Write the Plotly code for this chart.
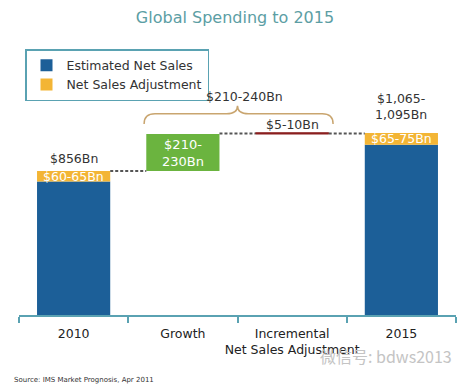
import plotly.graph_objects as go

# ---------------- data ----------------
categories = ["2010", "Growth", "Incremental<br>Net Sales Adjustment", "2015"]
bar_positions = [0, 3]                 # 2010, 2015
estimated_net_sales = [794, 1012]      # $Bn
net_sales_adjustment = [62, 70]        # $Bn
growth_value = 220                     # $Bn (210-230)
incremental_value = 7.5                # $Bn (5-10)

total_labels = ["$856Bn", "$1,065-<br>1,095Bn"]
adjustment_labels = ["$60-65Bn", "$65-75Bn"]
growth_label = "$210-<br>230Bn"
incremental_label = "$5-10Bn"
brace_label = "$210-240Bn"
title_text = "Global Spending to 2015"
source_text = "Source: IMS Market Prognosis, Apr 2011"
watermark_text = "微信号: bdws2013"

# ---------------- style ----------------
OFF = 8                      # page body margin of the html page
W, H = 470 - OFF, 389 - OFF
ML, MT, PW, PH = 19 - OFF, 60 - OFF, 437, 255
MR = W - ML - PW
MB = H - MT - PH
YMAX = 1516
BAR_W = 0.67
FONT = "DejaVu Sans"
BLUE = "#1c5f98"
ORANGE = "#f3b535"
GREEN = "#6bb43f"
RED = "#8a1f1f"
TEAL = "#5aa2b2"
TAN = "#c9a56f"
TXT = "#333333"
label_shifts = [3, 9]

totals = [e + a for e, a in zip(estimated_net_sales, net_sales_adjustment)]
growth_base = totals[0]
growth_top = growth_base + growth_value
incr_base = growth_top

fig = go.Figure()
fig.add_trace(go.Bar(x=bar_positions, y=estimated_net_sales, width=BAR_W,
                     marker=dict(color=BLUE, line=dict(width=0)),
                     name="Estimated Net Sales"))
fig.add_trace(go.Bar(x=bar_positions, y=net_sales_adjustment, base=estimated_net_sales,
                     width=BAR_W, marker=dict(color=ORANGE, line=dict(width=0)),
                     name="Net Sales Adjustment"))
fig.add_trace(go.Bar(x=[1], y=[growth_value], base=[growth_base], width=BAR_W,
                     marker=dict(color=GREEN, line=dict(width=0)), showlegend=False))
fig.add_trace(go.Bar(x=[2], y=[incremental_value], base=[incr_base], width=BAR_W,
                     marker=dict(color=RED, line=dict(color=RED, width=1)), showlegend=False))

# dashed connectors
half = BAR_W / 2
dash_line = dict(color="#555555", width=2, dash="3px,2px")
fig.add_trace(go.Scatter(x=[0 + half, 1 - half], y=[growth_base, growth_base], mode="lines",
                         line=dash_line, showlegend=False, hoverinfo="skip"))
conn_y = incr_base + incremental_value / 2
fig.add_trace(go.Scatter(x=[1 + half, 2 - half], y=[conn_y, conn_y], mode="lines",
                         line=dash_line, showlegend=False, hoverinfo="skip"))
fig.add_trace(go.Scatter(x=[2 + half, 3 - half], y=[conn_y, conn_y], mode="lines",
                         line=dash_line, showlegend=False, hoverinfo="skip"))

# brace over growth + incremental
bx0 = 1 - half - 0.02
bx1 = 2 + half + 0.04
bxt = (bx0 + bx1) / 2 - 0.01
yb = growth_top + 60
ym = growth_top + 120
yt = growth_top + 168
dx = 0.1
path = (f"M {bx0},{yb} Q {bx0},{ym} {bx0+dx},{ym} L {bxt-dx},{ym} "
        f"Q {bxt},{ym} {bxt},{yt} Q {bxt},{ym} {bxt+dx},{ym} "
        f"L {bx1-dx},{ym} Q {bx1},{ym} {bx1},{yb}")
fig.add_shape(type="path", path=path, xref="x", yref="y",
              line=dict(color=TAN, width=1.5))

ann = []
for x, t, lab, s in zip(bar_positions, totals, total_labels, label_shifts):
    ann.append(dict(x=x, y=t, text=lab, showarrow=False, yanchor="bottom", yshift=s,
                    font=dict(family=FONT, size=12.5, color=TXT)))
for x, e, a, lab in zip(bar_positions, estimated_net_sales, net_sales_adjustment, adjustment_labels):
    ann.append(dict(x=x, y=e + a / 2, text=lab, showarrow=False, yanchor="middle",
                    font=dict(family=FONT, size=12.5, color="white")))
ann.append(dict(x=1, y=growth_base + growth_value / 2, text=growth_label, showarrow=False,
                yanchor="middle", font=dict(family=FONT, size=13, color="white")))
ann.append(dict(x=2, y=ym, text=incremental_label, showarrow=False, yanchor="top", yshift=-1,
                font=dict(family=FONT, size=12.5, color=TXT)))
ann.append(dict(x=bxt + 0.06, y=yt, text=brace_label, showarrow=False, yanchor="bottom",
                font=dict(family=FONT, size=12.5, color=TXT)))
ann.append(dict(xref="paper", yref="paper", x=(12 - 19) / PW, y=(315 - 380) / PH,
                xanchor="left", yanchor="middle", text=source_text, showarrow=False,
                font=dict(family=FONT, size=7, color=TXT)))
ann.append(dict(xref="paper", yref="paper", x=(386 - 19) / PW, y=(315 - 356) / PH,
                xanchor="center", yanchor="middle", text=watermark_text, showarrow=False,
                font=dict(family="Noto Sans CJK SC", size=16, color="#c4c4c4")))

fig.update_layout(
    width=W, height=H,
    margin=dict(l=ML, r=MR, t=MT, b=MB, autoexpand=False),
    paper_bgcolor="white", plot_bgcolor="white",
    barmode="overlay",
    title=dict(text=title_text, x=(235 - OFF) / W, xref="container", xanchor="center",
               y=1 - (17 - OFF) / H, yref="container", yanchor="middle",
               font=dict(family=FONT, size=16, color="#5c9ea4")),
    showlegend=True,
    legend=dict(x=(25 - 19) / PW, y=(315 - 49) / PH, xanchor="left", yanchor="top",
                bordercolor=TEAL, borderwidth=1.5, bgcolor="white", traceorder="normal",
                itemwidth=30, tracegroupgap=0,
                font=dict(family=FONT, size=12.5, color=TXT)),
    annotations=ann,
    xaxis=dict(range=[-0.5, 3.5], tickvals=[0, 1, 2, 3], ticktext=categories,
               ticks="", showgrid=False, zeroline=False, showline=True,
               linecolor=TEAL, linewidth=2, ticklabelstandoff=6,
               tickfont=dict(family=FONT, size=12.5, color="#222222"),
               minor=dict(tick0=-0.5, dtick=1, ticks="outside", ticklen=6,
                          tickcolor=TEAL, tickwidth=1.5, showgrid=False)),
    yaxis=dict(range=[0, YMAX], visible=False, showgrid=False, zeroline=False),
)

fig.write_html("out.html")
